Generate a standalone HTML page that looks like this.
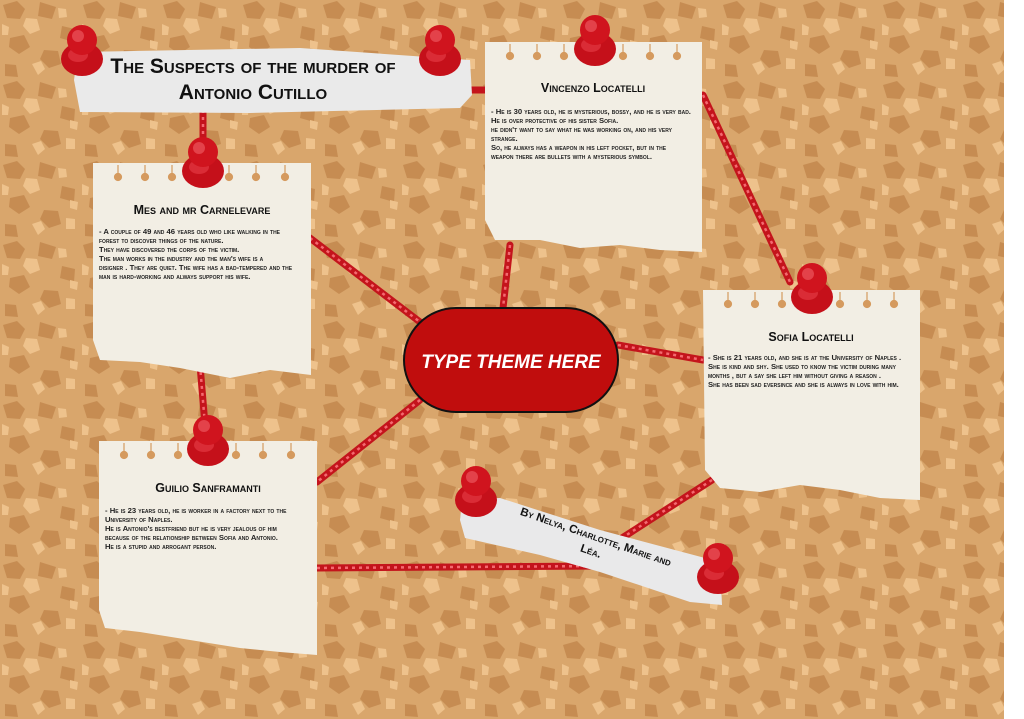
<!DOCTYPE html>
<html><head><meta charset="utf-8">
<style>
html,body{margin:0;padding:0;width:1024px;height:719px;overflow:hidden;background:#fff}
svg{display:block}
text{font-family:"Liberation Sans",sans-serif}
.tt{font-weight:bold;font-variant:small-caps;fill:#111}
.bd{font-weight:bold;font-variant:small-caps;fill:#222;font-size:7.7px}
</style></head><body>
<svg width="1024" height="719" viewBox="0 0 1024 719" xmlns="http://www.w3.org/2000/svg">
<defs>
<pattern id="cork" width="80" height="80" patternUnits="userSpaceOnUse">
<rect width="80" height="80" fill="#d9a66c"/>
<path d="M3 5l14-4 8 8-5 10-13-1zM40 2l16 5-4 12-14-3zM62 26l13 3-1 13-14-4zM10 38l14-3 6 12-11 7-10-7zM44 50l14 1 3 13-12 4-9-9zM5 64l11 1 2 12-13-1z" fill="#c68c52"/>
<path d="M26 18l11 1 3 11-10 4-7-8zM58 8l8 1 1 8-8 1zM32 64l9-3 4 8-7 6zM66 58l9 1 0 10-9 0zM2 24l7 3-1 8-6 0zM70 40l8 2-1 8-7-2z" fill="#eec28c"/>
</pattern>
<g id="pin">
<ellipse cx="0" cy="9" rx="21" ry="17" fill="#c5101a"/>
<ellipse cx="-4" cy="5" rx="10" ry="7" fill="#e8404a" opacity=".6"/>
<circle cx="0" cy="-10" r="15" fill="#d0141e"/>
<circle cx="-4" cy="-14" r="6" fill="#f06068" opacity=".6"/>
</g>
</defs>
<rect width="1024" height="719" fill="url(#cork)"/>
<rect x="1004" y="0" width="20" height="719" fill="#fff"/>

<g stroke="#c4141c" stroke-width="7" fill="none" stroke-linecap="round">
<path d="M203 110 L203 150"/>
<path d="M310 238 L420 322"/>
<path d="M470 90 L485 90"/>
<path d="M510 245 L503 308"/>
<path d="M703 95 L790 282"/>
<path d="M618 345 L703 360"/>
<path d="M200 365 L205 425"/>
<path d="M420 400 L317 482"/>
<path d="M317 568 L600 566"/>
<path d="M712 480 L622 538"/>
</g>
<g stroke="#f46a70" stroke-width="2.5" fill="none" stroke-dasharray="3 4">
<path d="M203 110 L203 150"/>
<path d="M310 238 L420 322"/>
<path d="M510 245 L503 308"/>
<path d="M703 95 L790 282"/>
<path d="M618 345 L703 360"/>
<path d="M200 365 L205 425"/>
<path d="M420 400 L317 482"/>
<path d="M317 568 L600 566"/>
<path d="M712 480 L622 538"/>
</g>

<path d="M78 52 L300 48 L470 60 L472 95 L460 108 L250 113 L80 112 L74 80 Z" fill="#eaeaea"/>
<text x="253" y="73" class="tt" font-size="21" text-anchor="middle">The Suspects of the murder of</text>
<text x="253" y="99" class="tt" font-size="21" text-anchor="middle">Antonio Cutillo</text>

<g fill="#f2eee4">
<path d="M93 163 H311 V375 L270 370 L230 378 L180 368 L140 362 L100 360 L93 340 Z"/>
<path d="M485 42 H702 V252 L660 250 L620 245 L580 248 L540 240 L495 240 L485 220 Z"/>
<path d="M703 290 H920 V500 L880 498 L840 490 L800 485 L760 492 L720 488 L705 470 Z"/>
<path d="M99 441 H317 V655 L280 652 L240 648 L190 640 L140 632 L105 628 L99 610 Z"/>
</g>
<g fill="#d59a5e" stroke="#d59a5e" stroke-width="1.2">
<g transform="translate(118,165)"><path d="M0 0v10"/><circle cy="12" r="3.5"/></g>
<g transform="translate(145,165)"><path d="M0 0v10"/><circle cy="12" r="3.5"/></g>
<g transform="translate(172,165)"><path d="M0 0v10"/><circle cy="12" r="3.5"/></g>
<g transform="translate(229,165)"><path d="M0 0v10"/><circle cy="12" r="3.5"/></g>
<g transform="translate(256,165)"><path d="M0 0v10"/><circle cy="12" r="3.5"/></g>
<g transform="translate(285,165)"><path d="M0 0v10"/><circle cy="12" r="3.5"/></g>
<g transform="translate(510,44)"><path d="M0 0v10"/><circle cy="12" r="3.5"/></g>
<g transform="translate(537,44)"><path d="M0 0v10"/><circle cy="12" r="3.5"/></g>
<g transform="translate(564,44)"><path d="M0 0v10"/><circle cy="12" r="3.5"/></g>
<g transform="translate(623,44)"><path d="M0 0v10"/><circle cy="12" r="3.5"/></g>
<g transform="translate(650,44)"><path d="M0 0v10"/><circle cy="12" r="3.5"/></g>
<g transform="translate(677,44)"><path d="M0 0v10"/><circle cy="12" r="3.5"/></g>
<g transform="translate(728,292)"><path d="M0 0v10"/><circle cy="12" r="3.5"/></g>
<g transform="translate(755,292)"><path d="M0 0v10"/><circle cy="12" r="3.5"/></g>
<g transform="translate(782,292)"><path d="M0 0v10"/><circle cy="12" r="3.5"/></g>
<g transform="translate(840,292)"><path d="M0 0v10"/><circle cy="12" r="3.5"/></g>
<g transform="translate(867,292)"><path d="M0 0v10"/><circle cy="12" r="3.5"/></g>
<g transform="translate(894,292)"><path d="M0 0v10"/><circle cy="12" r="3.5"/></g>
<g transform="translate(124,443)"><path d="M0 0v10"/><circle cy="12" r="3.5"/></g>
<g transform="translate(151,443)"><path d="M0 0v10"/><circle cy="12" r="3.5"/></g>
<g transform="translate(178,443)"><path d="M0 0v10"/><circle cy="12" r="3.5"/></g>
<g transform="translate(236,443)"><path d="M0 0v10"/><circle cy="12" r="3.5"/></g>
<g transform="translate(263,443)"><path d="M0 0v10"/><circle cy="12" r="3.5"/></g>
<g transform="translate(291,443)"><path d="M0 0v10"/><circle cy="12" r="3.5"/></g>
</g>

<text x="202" y="214" class="tt" font-size="12.5" text-anchor="middle">Mes and mr Carnelevare</text>
<g class="bd">
<text x="99" y="234">- A couple of 49 and 46 years old who like walking in the</text>
<text x="99" y="243">forest to discover things of the nature.</text>
<text x="99" y="252">They have discovered the corps of the victim.</text>
<text x="99" y="261">The man works in the industry and the  man's wife is a</text>
<text x="99" y="270">disigner . They are quiet. The wife has a bad-tempered and the</text>
<text x="99" y="279">man is  hard-working and always support his wife.</text>
</g>
<text x="593" y="92" class="tt" font-size="12.5" text-anchor="middle">Vincenzo Locatelli</text>
<g class="bd">
<text x="491" y="114">- He is 30 years old, he is mysterious, bossy, and he is very bad.</text>
<text x="491" y="123">He is over protective of his sister Sofia.</text>
<text x="491" y="132">he didn't want to say what he was working on, and his very</text>
<text x="491" y="141">strange.</text>
<text x="491" y="150">So, he always has a weapon in his left pocket, but in the</text>
<text x="491" y="159">weapon there are bullets with a mysterious symbol.</text>
</g>
<text x="811" y="341" class="tt" font-size="12.5" text-anchor="middle">Sofia Locatelli</text>
<g class="bd">
<text x="708" y="360">- She is 21 years old, and she is at the University of Naples .</text>
<text x="708" y="369">She is kind and shy. She used to know the victim during many</text>
<text x="708" y="378">months , but a say she left him without giving a reason .</text>
<text x="708" y="387">She has been sad eversince and she is always in love with him.</text>
</g>
<text x="208" y="492" class="tt" font-size="12.5" text-anchor="middle">Guilio Sanframanti</text>
<g class="bd">
<text x="105" y="513">- He is 23 years old, he is worker in a factory next to the</text>
<text x="105" y="522">University of Naples.</text>
<text x="105" y="531">He is Antonio's bestfriend but  he is very jealous of him</text>
<text x="105" y="540">because of the relationship between Sofia and Antonio.</text>
<text x="105" y="549">He is a stupid and arrogant person.</text>
</g>

<rect x="404" y="308" width="214" height="104" rx="52" fill="#c00d0d" stroke="#111" stroke-width="2"/>
<text x="511" y="368" font-size="19" font-weight="bold" font-style="italic" fill="#fff" text-anchor="middle">TYPE THEME HERE</text>

<path d="M462 500 L500 498 L600 530 L720 562 L722 605 L690 602 L600 572 L540 555 L465 538 L460 520 Z" fill="#e9e9ea"/>
<g transform="rotate(19 592 548)">
<text x="592" y="540" class="tt" font-size="11.5" text-anchor="middle">By Nelya, Charlotte, Marie and</text>
<text x="592" y="555" class="tt" font-size="11.5" text-anchor="middle">Léa.</text>
</g>

<use href="#pin" x="82" y="50"/>
<use href="#pin" x="440" y="50"/>
<use href="#pin" x="595" y="40"/>
<use href="#pin" x="203" y="162"/>
<use href="#pin" x="812" y="288"/>
<use href="#pin" x="208" y="440"/>
<use href="#pin" x="476" y="491"/>
<use href="#pin" x="718" y="568"/>
</svg>
</body></html>
